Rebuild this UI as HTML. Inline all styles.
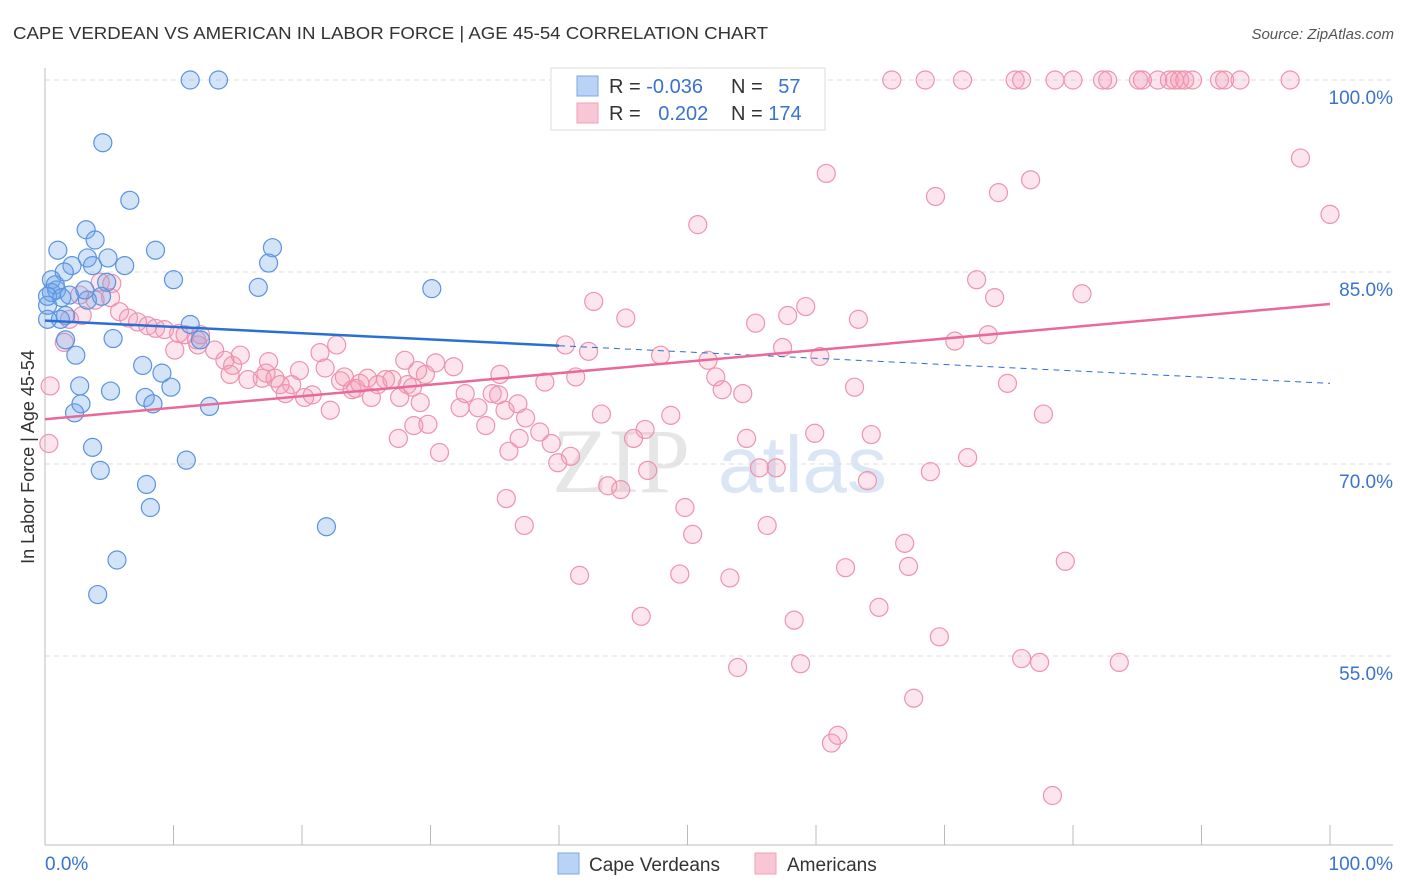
<!DOCTYPE html>
<html><head><meta charset="utf-8"><style>
body{margin:0;background:#fff;font-family:"Liberation Sans",sans-serif;}
</style></head><body>
<svg id="chart" width="1406" height="892" xmlns="http://www.w3.org/2000/svg" style="display:block">
<text x="13" y="39" font-size="17.5" fill="#333" textLength="755" lengthAdjust="spacingAndGlyphs" font-family="Liberation Sans, sans-serif">CAPE VERDEAN VS AMERICAN IN LABOR FORCE | AGE 45-54 CORRELATION CHART</text>
<text x="1394" y="39" font-size="15" fill="#555" text-anchor="end" font-style="italic">Source: ZipAtlas.com</text>
<g opacity="0.9">
<text x="552" y="492" font-size="92" fill="#e4e4e4" font-family="Liberation Serif, serif">ZIP</text>
<text x="718" y="492" font-size="80" fill="#d6e4f5" font-family="Liberation Sans, sans-serif">atlas</text>
</g>
<g id="grid"></g>
<g id="axes"></g>
<g id="marks"></g>
<g>
<rect x="551" y="68" width="274" height="62" fill="#fff" stroke="#ddd"/>
<rect x="577" y="76" width="21" height="20" fill="#b8d3f5" stroke="#7aa7e6"/>
<rect x="577" y="103" width="21" height="20" fill="#f9c6d5" stroke="#f0a0b8"/>
<text x="609" y="93" font-size="20" fill="#333">R = <tspan fill="#3a72d0">-0.036</tspan></text>
<text x="731" y="93" font-size="20" fill="#333">N = <tspan fill="#3a72d0" dx="10">57</tspan></text>
<text x="609" y="120" font-size="20" fill="#333">R = <tspan fill="#3a72d0" dx="12">0.202</tspan></text>
<text x="731" y="120" font-size="20" fill="#333">N = <tspan fill="#3a72d0">174</tspan></text>
</g>
<g>
<rect x="558" y="853" width="21" height="21" fill="#b8d3f5" stroke="#7aa7e6"/>
<text x="589" y="871" font-size="19" fill="#333">Cape Verdeans</text>
<rect x="755" y="853" width="21" height="21" fill="#f9c6d5" stroke="#f0a0b8"/>
<text x="787" y="871" font-size="19" fill="#333">Americans</text>
</g>
</svg>
<script>
const yTicks=[100,85,70,55];
const yTickLabels=["100.0%","85.0%","70.0%","55.0%"];
const xTicks=[0,10,20,30,40,50,60,70,80,90,100];
const blueX=[11.3,13.5,4.5,6.6,1.0,3.2,3.9,8.6,17.7,17.4,2.1,3.3,4.9,6.2,3.7,1.5,0.5,4.8,10.0,16.6,30.1,0.5,0.9,1.9,4.4,3.3,1.6,11.3,1.2,0.2,5.3,1.6,12.1,2.4,7.6,9.1,2.7,5.1,9.8,7.8,8.4,2.8,2.3,12.8,3.7,11.0,4.3,7.9,8.2,21.9,5.6,4.1,0.2,0.8,0.2,1.3,3.1];
const blueY=[100,100,95.1,90.6,86.7,88.3,87.5,86.7,86.9,85.7,85.5,86.1,86.1,85.5,85.5,85.0,84.4,84.2,84.4,83.8,83.7,83.4,83.6,83.2,83.1,82.8,81.6,80.9,81.3,81.3,79.8,79.7,79.7,78.5,77.7,77.1,76.1,75.7,76.0,75.2,74.7,74.7,74.0,74.5,71.3,70.3,69.5,68.4,66.6,65.1,62.5,59.8,82.4,84.0,83.1,83.0,83.6];
const pinkX=[65.9,68.5,71.4,75.5,76.0,78.6,80.0,82.3,82.7,85.1,85.4,86.6,87.5,87.9,88.3,88.7,89.3,91.4,91.8,93.0,96.9,
97.7,100,60.8,76.7,69.3,74.2,50.8,72.5,73.9,80.7,42.7,45.2,55.3,57.8,59.2,63.3,73.4,70.8,40.5,42.3,57.4,47.9,51.6,60.3,30.4,31.8,35.4,38.9,41.3,52.2,52.7,54.3,63.0,74.9,77.7,43.3,48.7,46.7,45.8,36.9,39.4,40.9,39.9,36.1,59.9,64.3,54.6,55.6,56.9,71.8,68.9,46.9,64.0,43.8,44.8,35.9,49.8,37.3,50.4,56.2,66.9,67.2,62.3,79.4,41.6,49.4,53.3,64.9,46.4,58.3,69.6,53.9,58.8,76.0,77.4,83.6,67.6,61.7,61.2,78.4,0.4,0.3,1.5,
2.7,3.9,5.1,2.9,1.9,5.8,6.5,7.2,8.0,8.6,9.3,10.4,10.9,12.1,10.1,11.9,13.2,14.0,14.6,15.2,15.8,16.9,17.2,17.9,18.3,19.2,19.8,20.2,20.8,21.4,21.8,22.2,22.7,23.3,23.9,24.2,24.5,25.1,25.4,25.9,26.5,27.0,27.6,28.0,28.2,28.6,29.0,29.6,27.5,28.7,29.8,30.7,32.3,32.7,33.7,34.3,34.8,35.3,35.8,36.8,37.4,38.5,11.8,14.4,17.4,18.7,23.0,4.3,5.2,29.2];
const pinkY=[100,100,100,100,100,100,100,100,100,100,100,100,100,100,100,100,100,100,100,100,100,
93.9,89.5,92.7,92.2,90.9,91.2,88.7,84.4,83.0,83.3,82.7,81.4,81.0,81.6,82.3,81.3,80.1,79.6,79.3,78.8,79.1,78.5,78.1,78.4,77.9,77.6,77.0,76.4,76.8,76.8,75.8,75.5,76.0,76.3,73.9,73.9,73.8,72.7,72.0,72.0,71.6,70.6,70.1,71.0,72.4,72.3,72.0,69.7,69.7,70.5,69.4,69.5,68.7,68.3,68.0,67.3,66.6,65.2,64.5,65.2,63.8,62.0,61.9,62.4,61.3,61.4,61.1,58.8,58.1,57.8,56.5,54.1,54.4,54.8,54.5,54.5,51.7,48.8,48.2,44.1,76.1,71.6,79.5,
83.2,82.8,83.0,81.6,81.3,81.9,81.4,81.1,80.8,80.6,80.5,80.2,80.1,80.1,78.9,79.3,78.9,78.1,77.7,78.5,76.6,76.7,77.1,76.7,76.2,76.2,77.3,75.2,75.4,78.7,77.5,74.2,79.3,76.8,75.8,75.9,76.3,76.7,75.2,76.2,76.6,76.6,75.2,78.1,76.2,76.0,77.3,77.0,72.0,73.0,73.1,70.9,74.4,75.5,74.4,73.0,75.5,75.4,74.2,74.7,73.6,72.5,79.7,77.0,78.0,75.5,76.5,84.2,84.1,74.8];
const blueTrend=[81.2,76.3];
const pinkTrend=[73.5,82.5];

const NS="http://www.w3.org/2000/svg";
const X0=45,X1=1330,YTOP=80,PXPER=12.8;
function xs(v){return X0+(X1-X0)*v/100;}
function ys(v){return YTOP+(100-v)*PXPER;}
function mk(tag,attrs,parent){const e=document.createElementNS(NS,tag);for(const k in attrs)e.setAttribute(k,attrs[k]);parent.appendChild(e);return e;}
const grid=document.getElementById('grid'),axes=document.getElementById('axes'),marks=document.getElementById('marks');
yTicks.forEach((t,i)=>{
  const l=mk('line',{x1:X0,x2:1393,y1:ys(t),y2:ys(t),stroke:'#ddd','stroke-dasharray':'5,4'},grid);
  
  
  const tx=mk('text',{x:1393,y:ys(t)+24,'font-size':19,fill:'#3a72d0','text-anchor':'end'},axes);
  
  
  tx.textContent=yTickLabels[i];
});
const ya=mk('line',{x1:X0,x2:X0,y1:68,y2:845,stroke:'#bbb'},axes);


const xa=mk('line',{x1:X0,x2:1393,y1:845,y2:845,stroke:'#bbb'},axes);


xTicks.forEach(t=>{
  const l=mk('line',{x1:xs(t),x2:xs(t),y1:825,y2:845,stroke:'#bbb'},axes);
  
  
});
const xl0=mk('text',{x:45,y:870,'font-size':19,fill:'#3a72d0'},axes);


xl0.textContent='0.0%';
const xl1=mk('text',{x:1393,y:870,'font-size':19,fill:'#3a72d0','text-anchor':'end'},axes);


xl1.textContent='100.0%';
const yt=mk('text',{x:34,y:457,'font-size':18,fill:'#333','text-anchor':'middle',transform:'rotate(-90 34 457)'},axes);


yt.textContent='In Labor Force | Age 45-54';

pinkX.forEach((x,i)=>{
  const c=mk('circle',{cx:xs(x),cy:ys(pinkY[i]),r:9,fill:'rgba(244,150,180,0.25)',stroke:'#ee93ae','stroke-width':1.2},marks);
  
  
});
blueX.forEach((x,i)=>{
  const c=mk('circle',{cx:xs(x),cy:ys(blueY[i]),r:9,fill:'rgba(110,165,235,0.3)',stroke:'#5b93e0','stroke-width':1.2},marks);
  
  
});
const bAt=x=>blueTrend[0]+(blueTrend[1]-blueTrend[0])*x/100;
const bt1=mk('line',{x1:xs(0),y1:ys(bAt(0)),x2:xs(40),y2:ys(bAt(40)),stroke:'#2a6fd6','stroke-width':2.5},marks);


const bt2=mk('line',{x1:xs(40),y1:ys(bAt(40)),x2:xs(100),y2:ys(bAt(100)),stroke:'#2a6fd6','stroke-width':1,'stroke-dasharray':'6,5'},marks);


const pt=mk('line',{x1:xs(0),y1:ys(pinkTrend[0]),x2:xs(100),y2:ys(pinkTrend[1]),stroke:'#e8699a','stroke-width':2.5},marks);


</script>
</body></html>
